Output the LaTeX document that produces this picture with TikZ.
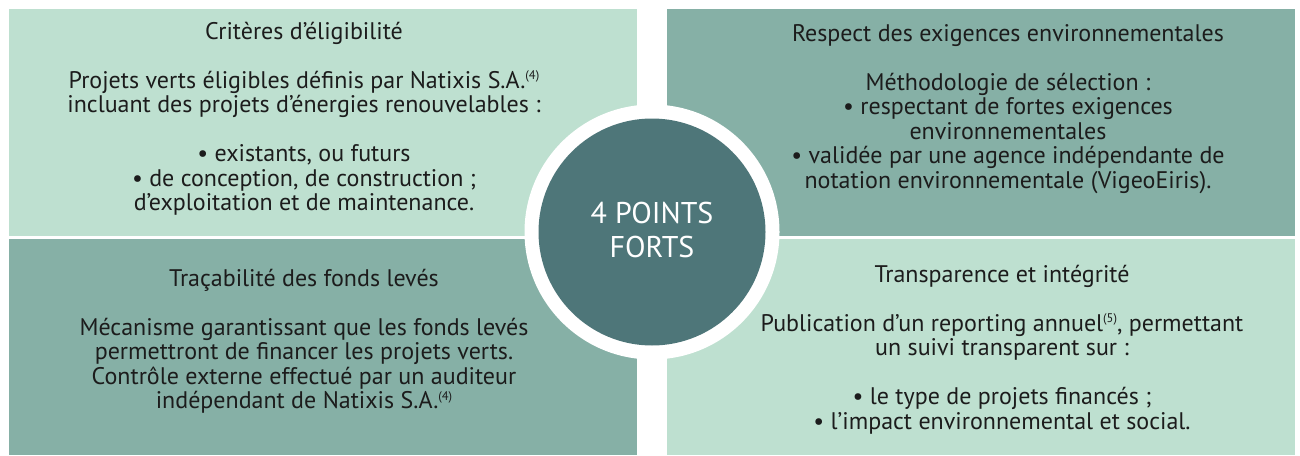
\documentclass[tikz,border=0pt]{standalone}
\usepackage{fontspec}
\setmainfont{PT Sans}
\definecolor{mintlight}{RGB}{190,224,208}
\definecolor{mintdark}{RGB}{134,176,166}
\definecolor{tealcirc}{RGB}{78,118,121}
\definecolor{inktext}{RGB}{28,28,28}
\newcommand{\supnote}[1]{\raisebox{8.5pt}{\fontsize{12.5}{12.5}\selectfont(#1)}}
\begin{document}
\begin{tikzpicture}[x=1pt,y=-1pt,
  bodytext/.style={anchor=base,align=center,inner sep=0pt,text=inktext,
    font=\fontsize{24}{24.5}\selectfont},
  centertext/.style={anchor=base,align=center,inner sep=0pt,text=white,
    font=\fontsize{30}{34}\selectfont}]
\useasboundingbox (0,0) rectangle (1300,455);
% quadrants
\fill[mintlight] (9,9) rectangle (637,236);
\fill[mintdark] (667,9) rectangle (1295,236);
\fill[mintdark] (9,239) rectangle (637,455);
\fill[mintlight] (667,239) rectangle (1295,455);
% central circle
\fill[white] (652,232) circle (127.5);
\fill[tealcirc] (652,232) circle (113.5);
\node[centertext] (center) at (652,257) {4 POINTS\\FORTS};
% texts (anchor base = baseline of last line)
\node[bodytext] (tl) at (304,210.5) {Critères d’éligibilité\\[24.5pt]
Projets verts éligibles définis par Natixis S.A.\supnote{4}\\
incluant des projets d’énergies renouvelables :\\[24.5pt]
• existants, ou futurs\\
• de conception, de construction ;\\
d’exploitation et de maintenance.};
\node[bodytext] (tr) at (1008,188) {Respect des exigences environnementales\\[24.5pt]
Méthodologie de sélection :\\
• respectant de fortes exigences\\
environnementales\\
• validée par une agence indépendante de\\
notation environnementale (VigeoEiris).};
\node[bodytext] (bl) at (304,408.5) {Traçabilité des fonds levés\\[24.5pt]
Mécanisme garantissant que les fonds levés\\
permettront de financer les projets verts.\\
Contrôle externe effectué par un auditeur\\
indépendant de Natixis S.A.\supnote{4}};
\node[bodytext] (br) at (1002,429) {Transparence et intégrité\\[24.5pt]
Publication d’un reporting annuel\supnote{5}, permettant\\
un suivi transparent sur :\\[24.5pt]
• le type de projets financés ;\\
• l’impact environnemental et social.};
\end{tikzpicture}
\end{document}
